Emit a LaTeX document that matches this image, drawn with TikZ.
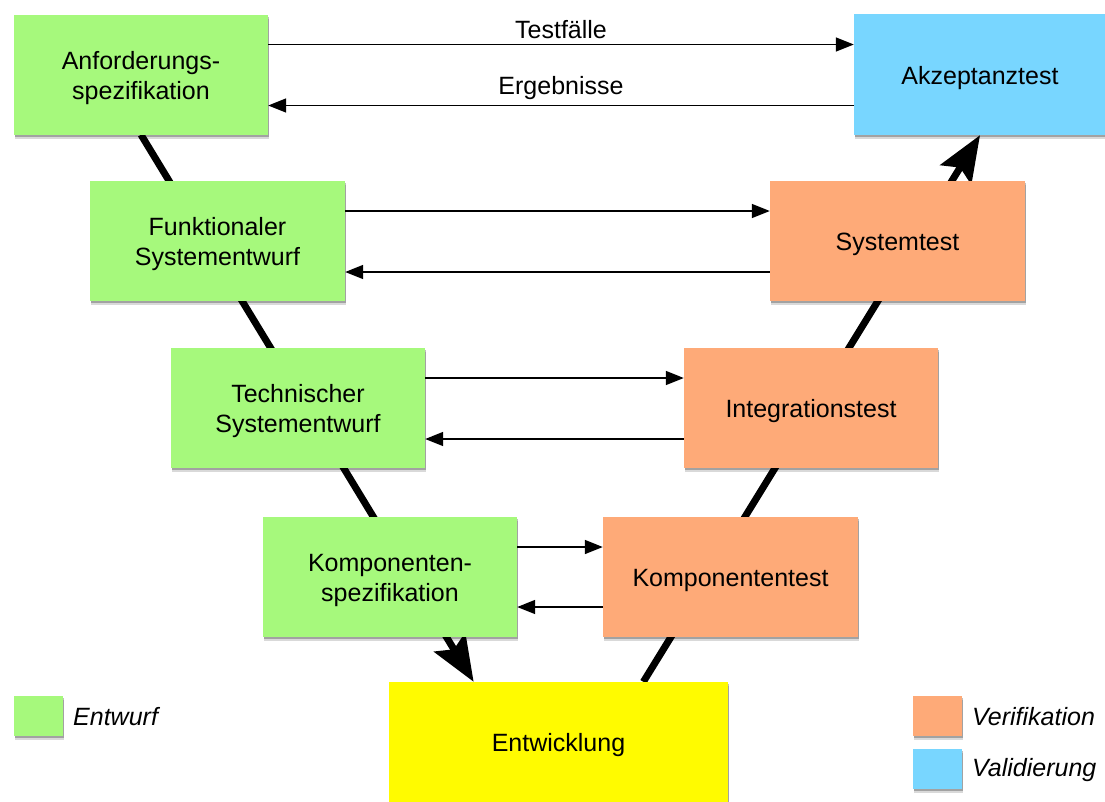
\documentclass[tikz,border=0pt]{standalone}
\usepackage{fontspec}
\setmainfont{Liberation Sans}
\usetikzlibrary{arrows.meta,shadows,calc}
\pgfdeclarelayer{back}
\pgfsetlayers{back,main}
\definecolor{entwurf}{HTML}{A6F97C}
\definecolor{verif}{HTML}{FEAA78}
\definecolor{valid}{HTML}{78D6FF}
\definecolor{entw}{HTML}{FFFB00}
\tikzset{
  softshadow/.style={
    drop shadow={shadow xshift=0.5pt, shadow yshift=-2pt, fill=black, opacity=0.25},
    drop shadow={shadow xshift=0.5pt, shadow yshift=-4pt, fill=black, opacity=0.15}},
  phase/.style={fill=#1, draw=none, inner sep=0pt, minimum width=254pt, minimum height=120pt,
    align=center, font=\fontsize{25}{30}\selectfont, text depth=5pt, softshadow},
  oneline/.style={text height=24pt},
  twoline/.style={text height=54pt},
  legbox/.style={fill=#1, draw=none, inner sep=0pt, minimum width=49pt, minimum height=40pt,
    softshadow},
  legtext/.style={anchor=west, inner sep=0pt, font=\fontsize{25}{30}\selectfont\itshape},
  flow/.style={line width=1.6pt, -{Triangle[length=18pt,width=14pt]}},
  vline/.style={line width=7pt, -{Stealth[length=46pt,width=36pt,inset=8pt]}},
  flowlabel/.style={inner sep=5pt, font=\fontsize{25}{30}\selectfont},
}
\begin{document}
\begin{tikzpicture}[x=1pt,y=-1pt]
\useasboundingbox (0,0) rectangle (1105,801);

% left branch: design phases
\node[phase=entwurf, twoline] (anf)  at (141,74.5)  {Anforderungs-\\spezifikation};
\node[phase=entwurf, twoline, minimum width=255pt] (funk) at (217.5,241) {Funktionaler\\Systementwurf};
\node[phase=entwurf, twoline] (tech) at (298,408)  {Technischer\\Systementwurf};
\node[phase=entwurf, twoline] (ksp)  at (390,577)  {Komponenten-\\spezifikation};

% right branch: test phases
\node[phase=valid, oneline, minimum width=252pt, minimum height=121pt] (akz) at (980,74.5) {Akzeptanztest};
\node[phase=verif, oneline, minimum width=255pt] (sys)  at (897.5,241) {Systemtest};
\node[phase=verif, oneline] (int)  at (811,408)  {Integrationstest};
\node[phase=verif, oneline, minimum width=255pt] (kte)  at (730.5,577) {Komponententest};

% bottom of the V
\node[phase=entw, oneline, minimum width=339pt] (dev) at (558.5,742) {Entwicklung};

% the V itself, behind the boxes
\coordinate (devL) at ($(dev.north west)!0.25!(dev.north east)$);
\coordinate (devR) at ($(dev.north west)!0.75!(dev.north east)$);
\begin{pgfonlayer}{back}
  \fill[white] (0,0) rectangle (1105,801);
  \draw[vline] (anf.south) -- (devL);
  \draw[vline] (devR) -- (akz.south);
\end{pgfonlayer}

% test cases and results between the two branches
\draw[flow] ([yshift=30pt]anf.east) -- node[flowlabel, above] {Testfälle} ([yshift=30pt]akz.west);
\draw[flow] ([yshift=-31pt]akz.west) -- node[flowlabel, above] {Ergebnisse} ([yshift=-31pt]anf.east);
\draw[flow] ([yshift=30pt]funk.east) -- ([yshift=30pt]sys.west);
\draw[flow] ([yshift=-31pt]sys.west) -- ([yshift=-31pt]funk.east);
\draw[flow] ([yshift=30pt]tech.east) -- ([yshift=30pt]int.west);
\draw[flow] ([yshift=-31pt]int.west) -- ([yshift=-31pt]tech.east);
\draw[flow] ([yshift=30pt]ksp.east) -- ([yshift=30pt]kte.west);
\draw[flow] ([yshift=-30pt]kte.west) -- ([yshift=-30pt]ksp.east);

% legend
\node[legbox=entwurf] (lg1) at (38.5,716) {};
\node[legtext] (lt1) at (73,717) {Entwurf};
\node[legbox=verif] (lg2) at (937.5,716) {};
\node[legtext] (lt2) at (972,717) {Verifikation};
\node[legbox=valid] (lg3) at (937.5,769) {};
\node[legtext] (lt3) at (972,770) {Validierung};
\end{tikzpicture}
\end{document}
